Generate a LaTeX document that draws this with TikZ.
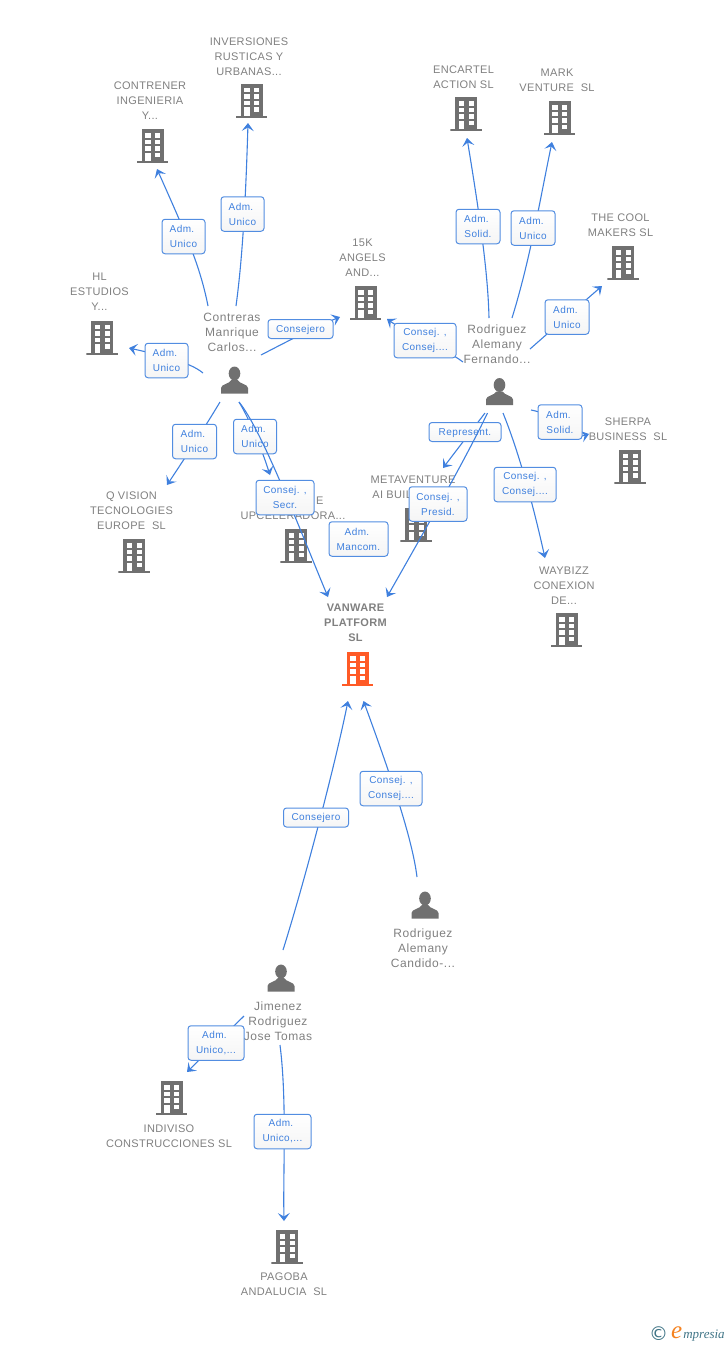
\documentclass[tikz,border=0pt]{standalone}
\usepackage{fontspec}
\setmainfont{Liberation Sans}
\newfontfamily\logofont{Liberation Serif}
\newfontfamily\symfont{DejaVu Sans}
\usetikzlibrary{arrows.meta}
\definecolor{txtgray}{HTML}{808080}
\definecolor{icongray}{HTML}{707070}
\definecolor{linkblue}{HTML}{3F80DE}
\definecolor{hiorange}{HTML}{FF5A26}
\definecolor{logoteal}{HTML}{3F7486}
\definecolor{logoorange}{HTML}{F58220}
\tikzset{
	building/.style={minimum width=31.5pt,minimum height=34pt,inner sep=0pt,path picture={
		\begin{scope}[shift={(path picture bounding box.center)}]
			\fill[#1] (-11,-17) rectangle (11,15.5);
			\fill[#1] (-15.75,15) rectangle (15.75,17);
			\foreach \wy in {-13,-6.5,0}{
				\fill[white] (-7.5,\wy) rectangle (-2,\wy+4.5);
				\fill[white] (2.5,\wy) rectangle (7.5,\wy+4.5);
			}
			\fill[white] (-7.5,6.5) rectangle (-2,15);
			\fill[white] (2.5,6.5) rectangle (7.5,11);
		\end{scope}}},
	person/.style={minimum width=27pt,minimum height=27pt,inner sep=0pt,path picture={
		\begin{scope}[shift={(path picture bounding box.center)}]
			\fill[icongray] (0,-6.5) ellipse (5.8 and 7);
			\fill[icongray] (-13.5,13.5) -- (-13.5,8) .. controls (-13.5,4) and (-5,4) .. (-3,0) -- (3,0) .. controls (5,4) and (13.5,4) .. (13.5,8) -- (13.5,13.5) -- cycle;
		\end{scope}}},
	txt/.style={text=txtgray,align=center,inner sep=0pt,yshift=-1pt,font=\fontsize{11}{15}\selectfont\addfontfeature{LetterSpace=3}},
	pname/.style={text=txtgray,align=center,inner sep=0pt,font=\fontsize{12}{15}\selectfont\addfontfeature{LetterSpace=4.5}},
	link/.style={draw=linkblue,line width=1.1pt,-{Stealth[length=8pt,width=12pt,inset=3.5pt]}},
	lab/.style={draw=linkblue!90!white,line width=1pt,rounded corners=3pt,top color=white,bottom color=black!4,text=linkblue,align=center,inner sep=0pt,minimum width=#1,minimum height=34.5pt,execute at begin node={\rule{0pt}{9pt}},font=\fontsize{10}{15}\selectfont\addfontfeature{LetterSpace=4}}
}
\begin{document}
\begin{tikzpicture}[x=1pt,y=-1pt]
	\useasboundingbox (0,0) rectangle (728,1345);
	% companies
	\node[building=icongray] (inversiones) at (251.5,100.5) {};
	\node[building=icongray] (contrener) at (152.5,146) {};
	\node[building=icongray] (hl) at (102,337.5) {};
	\node[building=icongray] (angels) at (365.5,303) {};
	\node[building=icongray] (encartel) at (466,114) {};
	\node[building=icongray] (mark) at (559.5,118) {};
	\node[building=icongray] (cool) at (623,263) {};
	\node[building=icongray] (sherpa) at (630,466.5) {};
	\node[building=icongray] (waybizz) at (566.5,630) {};
	\node[building=icongray] (qvision) at (134,556) {};
	\node[building=icongray] (upcel) at (296,546) {};
	\node[building=icongray] (meta) at (416,525) {};
	\node[building=hiorange] (vanware) at (357.5,669) {};
	\node[building=icongray] (indiviso) at (171.5,1098) {};
	\node[building=icongray] (pagoba) at (287,1247) {};
	\node[txt] (t1) at (249,55.5) {INVERSIONES\\RUSTICAS Y\\URBANAS...};
	\node[txt] (t2) at (150,100) {CONTRENER\\INGENIERIA\\Y...};
	\node[txt] (t3) at (99.5,291) {HL\\ESTUDIOS\\Y...};
	\node[txt] (t4) at (362.5,257) {15K\\ANGELS\\AND...};
	\node[txt] (t5) at (463.5,76.5) {ENCARTEL\\ACTION SL};
	\node[txt] (t6) at (557,79.5) {MARK\\VENTURE\ \ SL};
	\node[txt] (t7) at (620.5,224.5) {THE COOL\\MAKERS SL};
	\node[txt] (t8) at (628,428.5) {SHERPA\\BUSINESS\ \ SL};
	\node[txt] (t9) at (564,585) {WAYBIZZ\\CONEXION\\DE...};
	\node[txt] (t10) at (131.5,510) {Q VISION\\TECNOLOGIES\\EUROPE\ \ SL};
	\node[txt] (t11) at (293,507) {\phantom{AAAAAAA}E\\UPCELERADORA...};
	\node[txt] (t12) at (413,486.5) {METAVENTURE\\AI BUIL\phantom{DERS...}};
	\node[txt,font=\fontsize{11}{15}\selectfont\bfseries\addfontfeature{LetterSpace=3}] (t13) at (355.5,622) {VANWARE\\PLATFORM\\SL};
	\node[txt] (t14) at (169,1135.5) {INDIVISO\\CONSTRUCCIONES SL};
	\node[txt] (t15) at (284,1283.5) {PAGOBA\\ANDALUCIA\ \ SL};
	% people
	\node[person] (carlos) at (234.5,380) {};
	\node[person] (fernando) at (499.5,391.5) {};
	\node[person] (candido) at (425,905) {};
	\node[person] (jimenez) at (281,978) {};
	\node[pname] (p1) at (232,332) {Contreras\\Manrique\\Carlos...};
	\node[pname] (p2) at (497,344) {Rodriguez\\Alemany\\Fernando...};
	\node[pname] (p3) at (423,948) {Rodriguez\\Alemany\\Candido-...};
	\node[pname] (p4) at (278,1021) {Jimenez\\Rodriguez\\Jose Tomas};
	% Contreras
	\draw[link] ([shift={(-26.5,-74)}]carlos.center) .. controls (200,265) and (185,232) .. ([shift={(4.5,23)}]contrener.center);
	\node[lab=43pt] (e1) at (183.5,236.5) {Adm.\kern3pt\\Unico};
	\draw[link] ([shift={(1.5,-74)}]carlos.center) .. controls (243,255) and (246,190) .. ([shift={(-3.5,22.5)}]inversiones.center);
	\node[lab=43pt] (e2) at (242.5,214) {Adm.\kern3pt\\Unico};
	\draw[link] ([shift={(-31.5,-7)}]carlos.center) .. controls (190,362) and (160,355) .. ([shift={(27,10.5)}]hl.center);
	\node[lab=43pt] (e3) at (166.5,360.5) {Adm.\kern3pt\\Unico};
	\draw[link] ([shift={(26.5,-25)}]carlos.center) .. controls (288,341) and (315,327) .. ([shift={(-25.5,14)}]angels.center);
	\node[lab=65pt,minimum height=19pt] (e4) at (300.5,329) {Consejero};
	\draw[link] ([shift={(-14.5,22)}]carlos.center) .. controls (205,427) and (185,458) .. ([shift={(33,-71)}]qvision.center);
	\node[lab=44pt] (e5) at (194.5,441.5) {Adm.\kern3pt\\Unico};
	\draw[link] ([shift={(4.5,22)}]carlos.center) .. controls (250,420) and (262,450) .. ([shift={(-26,-71)}]upcel.center);
	\node[lab=43pt] (e6) at (255,436.5) {Adm.\kern3pt\\Unico};
	\draw[link] ([shift={(4.5,22)}]carlos.center) .. controls (262,430) and (300,530) .. ([shift={(-29.5,-72)}]vanware.center);
	\node[lab=58pt] (e7) at (285,497.5) {Consej. ,\\Secr.};
	\node[lab=59pt] (e8) at (358.5,539) {Adm.\kern3pt\\Mancom.};
	% Rodriguez Fernando
	\draw[link] ([shift={(-36.5,-29.5)}]fernando.center) .. controls (440,345) and (410,335) .. ([shift={(21.5,16)}]angels.center);
	\node[lab=62pt] (e9) at (425,340.5) {Consej. ,\\Consej....};
	\draw[link] ([shift={(-10.5,-73.5)}]fernando.center) .. controls (488,270) and (478,205) .. ([shift={(1,24)}]encartel.center);
	\node[lab=44pt] (e10) at (478,226.5) {Adm.\kern3pt\\Solid.};
	\draw[link] ([shift={(12.5,-73.5)}]fernando.center) .. controls (530,260) and (540,200) .. ([shift={(-7.5,24)}]mark.center);
	\node[lab=44pt] (e11) at (533,228) {Adm.\kern3pt\\Unico};
	\draw[link] ([shift={(30.5,-42.5)}]fernando.center) .. controls (547,334) and (587,299) .. ([shift={(-21,23)}]cool.center);
	\node[lab=44pt] (e12) at (567,317) {Adm.\kern3pt\\Unico};
	\draw[link] ([shift={(31.5,18.5)}]fernando.center) .. controls (560,415) and (570,440) .. ([shift={(-41,-32.5)}]sherpa.center);
	\node[lab=44pt] (e13) at (560,422) {Adm.\kern3pt\\Solid.};
	\draw[link] ([shift={(-14.5,21.5)}]fernando.center) -- ([shift={(27,-57)}]meta.center);
	\node[lab=72pt,minimum height=19pt] (e14) at (465,432) {Represent.};
	\draw[link] ([shift={(-12,21.5)}]fernando.center) .. controls (465,460) and (425,530) .. ([shift={(29.5,-72)}]vanware.center);
	\node[lab=58pt] (e15) at (438,504) {Consej. ,\\Presid.};
	\draw[link] ([shift={(3.5,21.5)}]fernando.center) .. controls (518,450) and (532,500) .. ([shift={(-21.5,-72)}]waybizz.center);
	\node[lab=62pt] (e16) at (525,484.5) {Consej. ,\\Consej....};
	% Candido and Jimenez
	\draw[link] ([shift={(-8,-28)}]candido.center) .. controls (413,845) and (398,795) .. ([shift={(6,32)}]vanware.center);
	\node[lab=62pt] (e17) at (391,788.5) {Consej. ,\\Consej....};
	\draw[link] ([shift={(2,-28)}]jimenez.center) .. controls (305,880) and (335,765) .. ([shift={(-9.5,32)}]vanware.center);
	\node[lab=65pt,minimum height=19pt] (e18) at (316,817.5) {Consejero};
	\draw[link] ([shift={(-37,38)}]jimenez.center) -- ([shift={(15.5,-26)}]indiviso.center);
	\node[lab=56pt] (e19) at (216,1043) {Adm.\kern3pt\\Unico,...};
	\draw[link] ([shift={(-1,67)}]jimenez.center) .. controls (287,1100) and (283,1170) .. ([shift={(-3,-26)}]pagoba.center);
	\node[lab=57pt] (e20) at (282.5,1131.5) {Adm.\kern3pt\\Unico,...};
	% logo
	\node[inner sep=0pt,text=logoteal,font=\symfont\fontsize{19}{19}\selectfont] (logoc) at (658.5,1334) {©};
	\node[inner sep=0pt,anchor=base west,font=\logofont\itshape\fontsize{13}{13}\selectfont,text=logoteal] (logo) at (671,1338) {{\color{logoorange}\fontsize{25}{25}\selectfont e}\kern1pt mpresia};
\end{tikzpicture}
\end{document}
